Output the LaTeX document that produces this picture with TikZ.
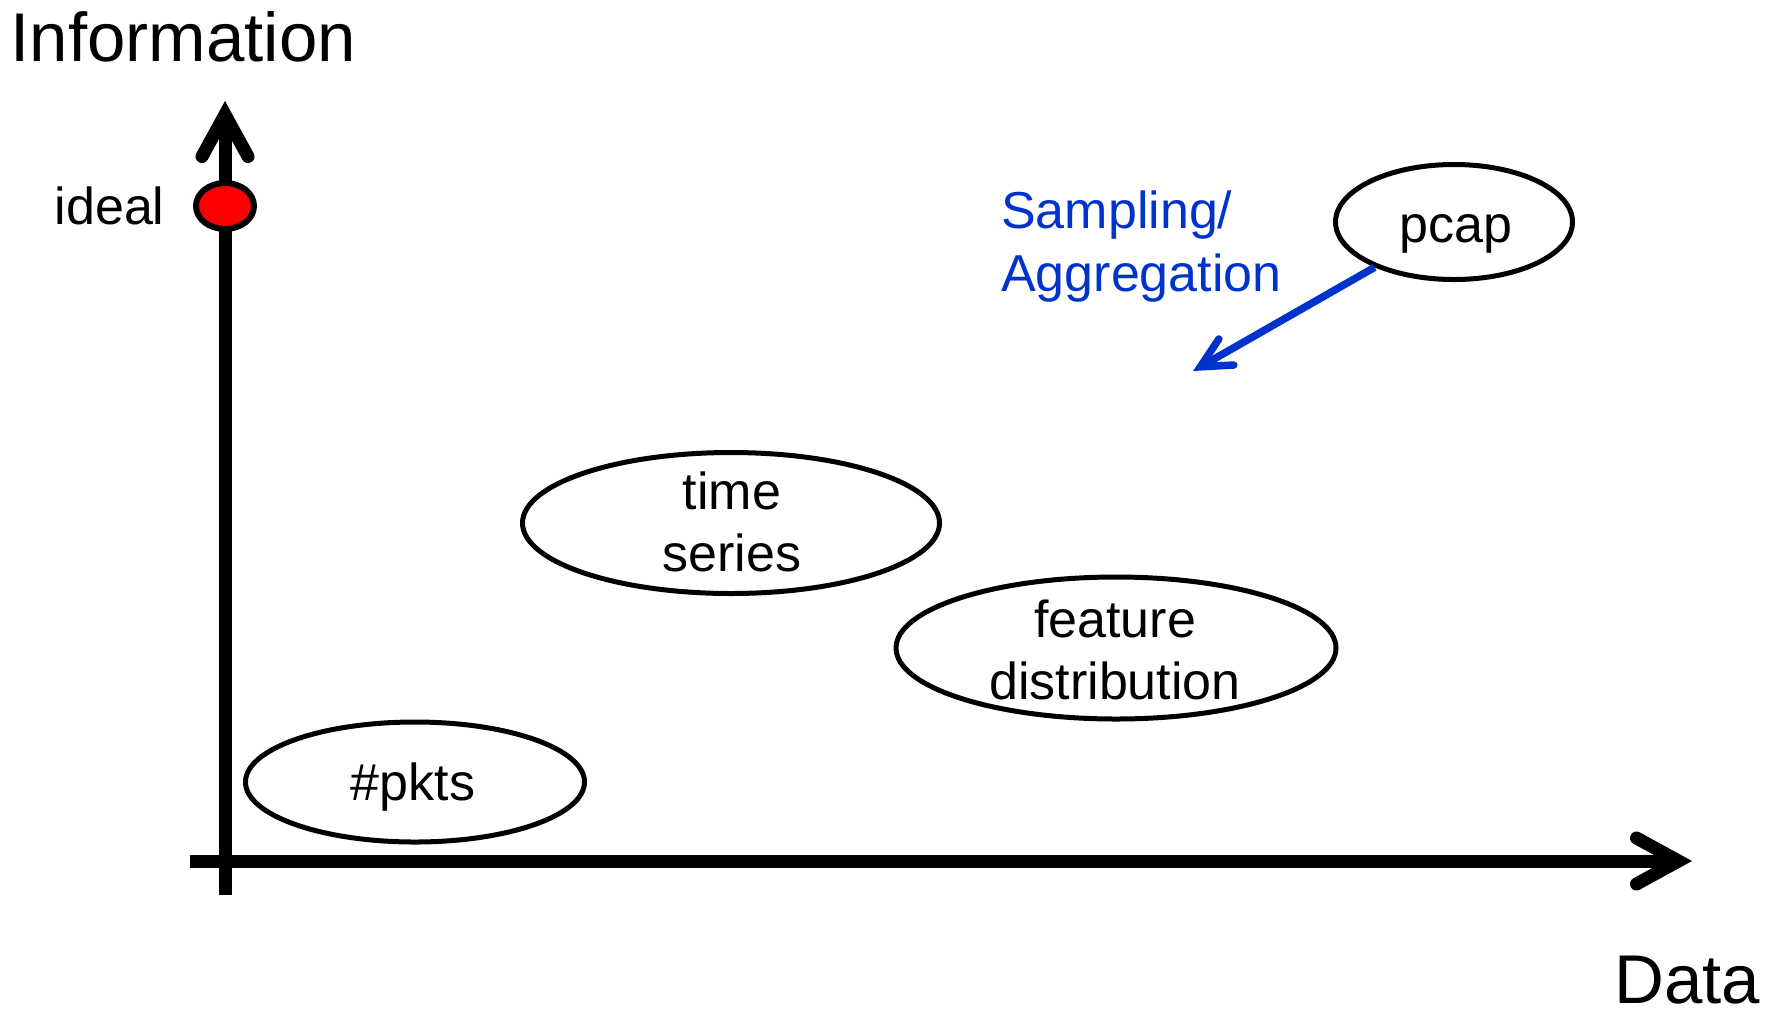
\documentclass[tikz,border=0pt]{standalone}
\usepackage{fontspec}
\setmainfont{Liberation Sans}
\usetikzlibrary{arrows.meta,shapes.geometric}
\definecolor{flowblue}{RGB}{0,51,204}
\definecolor{dotred}{RGB}{255,0,0}

\begin{document}
\begin{tikzpicture}[x=1pt,y=-1pt,
  axis/.style={line width=13pt,
    -{Straight Barb[length=42pt,width=46pt,line cap=round,line join=miter]}},
  blob/.style={ellipse, draw, line width=5pt, inner sep=0pt, fill=white},
  lbl/.style={inner sep=0pt, font=\fontsize{52}{62}\selectfont, align=center},
  axlbl/.style={inner sep=0pt, font=\fontsize{69}{83}\selectfont},
  flow/.style={line width=7.5pt, draw=flowblue,
    -{Straight Barb[length=30pt,width=30pt,line cap=round,line join=miter]}},
]
\useasboundingbox (0,0) rectangle (1776,1013);

% axes
\coordinate (ybot) at (225,895);
\coordinate (ytop) at (225,101);
\coordinate (xleft) at (190,861);
\coordinate (xright) at (1692,861);
\draw[axis] (ybot) -- (ytop);
\draw[axis] (xleft) -- (xright);

% axis labels
\node[axlbl, anchor=base west] (info) at (10.5,61) {Information};
\node[axlbl, anchor=base west] (data) at (1614,1003) {Data};

% ideal point
\node[ellipse, draw, fill=dotred, line width=6pt, inner sep=0pt,
      minimum width=58pt, minimum height=46pt] (ideal) at (225,206) {};
\node[lbl, anchor=base west] (idealt) at (54.5,224) {ideal};

% data representations (two-line labels are placed by their last baseline)
\node[blob, minimum width=237pt, minimum height=115pt] (pcap) at (1454,222) {};
\node[lbl, anchor=base] (pcapt) at (1456,242) {pcap};

\node[blob, minimum width=417pt, minimum height=141pt] (ts) at (731,523) {};
\node[lbl, anchor=base] (tst) at (732,571) {time\\series};

\node[blob, minimum width=440pt, minimum height=142pt] (fd) at (1116,648) {};
\node[lbl, anchor=base] (fdt) at (1115,699) {feature\\distribution};

\node[blob, minimum width=339pt, minimum height=120pt] (pkts) at (415,782) {};
\node[lbl, anchor=base] (pktst) at (413,800) {\#pkts};

% sampling / aggregation
\coordinate (reduced) at (1193,371);
\draw[flow] (pcap) -- (reduced);
\node[lbl, align=left, anchor=base west, text=flowblue,
      font=\fontsize{52}{63}\selectfont] (samp) at (1001,291) {Sampling/\\Aggregation};
\end{tikzpicture}
\end{document}
